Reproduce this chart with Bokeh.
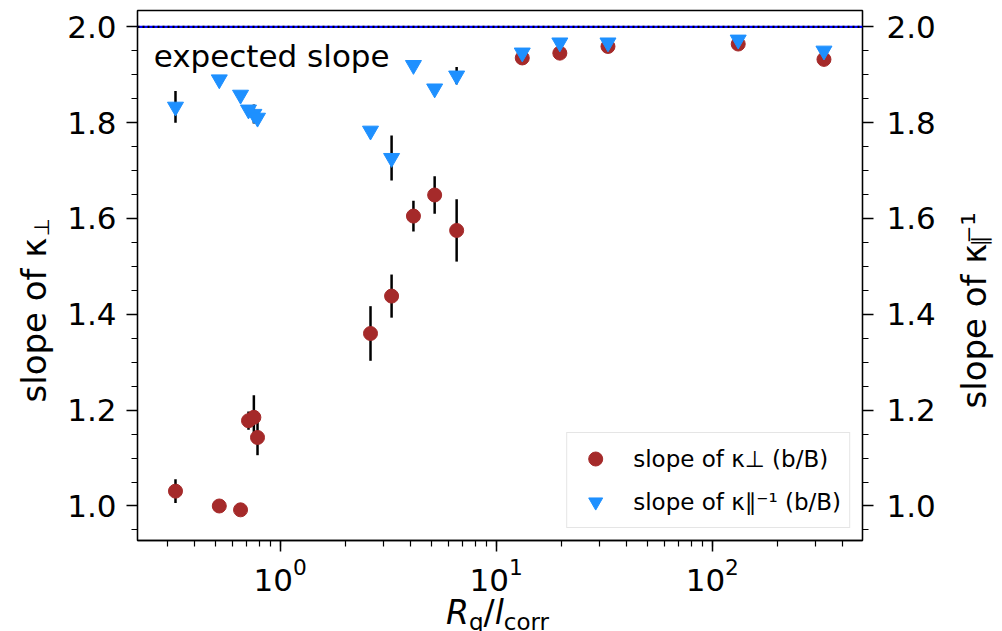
import math
from bokeh.plotting import figure
from bokeh.layouts import column
from bokeh.models import (ColumnDataSource, Range1d, LinearAxis, Label, Legend, Div,
                          LegendItem, Span, SingleIntervalTicker, NumeralTickFormatter)
from bokeh.embed import file_html
from bokeh.resources import INLINE

# ---- data ----
ratio = [0.328, 0.523, 0.656, 0.714, 0.756, 0.786, 2.62, 3.28, 4.14, 5.19, 6.56,
         13.2, 19.7, 32.9, 131.8, 328.6]
slope_perp = [1.031, 1.000, 0.992, 1.178, 1.185, 1.143, 1.360, 1.438, 1.605, 1.649,
              1.575, 1.935, 1.945, 1.959, 1.964, 1.932]
slope_perp_err = [0.025, 0.004, 0.004, 0.019, 0.046, 0.037, 0.057, 0.045, 0.032, 0.039,
                  0.065, 0.005, 0.005, 0.005, 0.005, 0.005]
slope_par = [1.833, 1.890, 1.858, 1.827, 1.818, 1.810, 1.783, 1.726, 1.920, 1.871,
             1.898, 1.946, 1.967, 1.967, 1.973, 1.950]
slope_par_err = [0.033, 0.004, 0.008, 0.010, 0.020, 0.010, 0.005, 0.047, 0.005, 0.005,
                 0.018, 0.004, 0.004, 0.004, 0.004, 0.004]
expected = 2.0
legend_labels = ["slope of κ⊥ (b/B)", "slope of κ∥⁻¹ (b/B)"]

RED = "#a52a2a"
BLUE = "#1e90ff"
FONT = "DejaVu Sans"
FS = "31px"      # tick labels / annotation
AX = "34px"      # y titles
SUB = "21px"     # sub/superscripts of y titles

X0, X1 = 0.2188, 495.5
Y0, Y1 = 0.928, 2.034
W, H = 1002, 595          # figure; a 34px strip below holds the x title
FL, FR, FT, FB = 136, 863, 10, 540

p = figure(width=W, height=H, x_axis_type="log",
           x_range=Range1d(X0, X1), y_range=Range1d(Y0, Y1),
           output_backend="svg", toolbar_location=None,
           min_border_left=FL, min_border_right=W - FR, min_border_top=FT,
           min_border_bottom=H - FB)
p.extra_y_ranges = {"right": Range1d(Y0, Y1)}
p.add_layout(LinearAxis(y_range_name="right"), "right")
p.grid.visible = False
p.outline_line_color = "black"
p.outline_line_width = 1.3
p.background_fill_color = "white"
p.border_fill_color = "white"

for ax in p.yaxis:
    ax.ticker = SingleIntervalTicker(interval=0.2, num_minor_ticks=4)
    ax.formatter = NumeralTickFormatter(format="0.0")
for ax in list(p.xaxis) + list(p.yaxis):
    ax.axis_line_color = "black"
    ax.axis_line_width = 1.3
    ax.major_tick_line_color = "black"
    ax.minor_tick_line_color = "black"
    ax.major_tick_line_width = 1.5
    ax.minor_tick_line_width = 1.2
    ax.major_tick_out = 11
    ax.major_tick_in = 0
    ax.minor_tick_out = 6
    ax.minor_tick_in = 0
    ax.major_label_text_font = FONT
    ax.major_label_text_font_size = FS
    ax.major_label_text_color = "black"
p.yaxis[0].major_label_standoff = 10
p.yaxis[1].major_label_standoff = 13
p.xaxis.major_label_standoff = 6

# expected slope line
p.add_layout(Span(location=expected, dimension="width", line_color="blue", line_width=2.2))
p.add_layout(Span(location=expected, dimension="width", line_color="black",
                  line_width=2.2, line_dash="2 3"))

src = ColumnDataSource(dict(
    x=ratio, perp=slope_perp, par=slope_par,
    perp_lo=[v - e for v, e in zip(slope_perp, slope_perp_err)],
    perp_hi=[v + e for v, e in zip(slope_perp, slope_perp_err)],
    par_lo=[v - e for v, e in zip(slope_par, slope_par_err)],
    par_hi=[v + e for v, e in zip(slope_par, slope_par_err)],
))

p.segment(x0="x", y0="perp_lo", x1="x", y1="perp_hi", source=src,
          line_color="black", line_width=2.5)
r_perp = p.scatter(x="x", y="perp", source=src, marker="circle", size=14,
                   fill_color=RED, line_color=RED)
p.segment(x0="x", y0="par_lo", x1="x", y1="par_hi", source=src,
          line_color="black", line_width=2.5)
r_par = p.scatter(x="x", y="par", source=src, marker="inverted_triangle", size=16,
                  fill_color=BLUE, line_color=BLUE)

legend = Legend(items=[LegendItem(label=legend_labels[0], renderers=[r_perp]),
                       LegendItem(label=legend_labels[1], renderers=[r_par])],
                location="bottom_right", margin=12, padding=8, spacing=8,
                glyph_width=40, glyph_height=35, label_standoff=18,
                label_text_font=FONT, label_text_font_size="23px",
                label_text_color="black",
                border_line_color="#cccccc", border_line_width=1.2,
                background_fill_alpha=0.8)
p.add_layout(legend)

p.add_layout(Label(x=0.26, y=1.94, text="expected slope", text_font=FONT,
                   text_font_size=FS, text_baseline="alphabetic", text_align="left",
                   text_color="black"))

# y titles: pieces placed in the side panels (positions in canvas px -> data)
LX0, LX1 = math.log10(X0), math.log10(X1)
def to_data(cx, cy):
    x = 10 ** (LX0 + (cx - FL) / (FR - FL) * (LX1 - LX0))
    y = Y0 + (FB - cy) / (FB - FT) * (Y1 - Y0)
    return x, y

def lab(side, text, cx, cy, size):
    x, y = to_data(cx, cy)
    p.add_layout(Label(x=x, y=y, text=text, text_font=FONT, text_font_size=size,
                       angle=math.pi / 2, text_align="left",
                       text_baseline="alphabetic", text_color="black"), side)

lab("left", "slope of κ", 32, 402, AX)
lab("left", "⊥", 40, 236, SUB)
lab("right", "slope of κ⁻¹", 975, 408, AX)
lab("right", "∥", 981, 246, SUB)

# x title with real subscripts
xtitle = Div(
    text=('<span style="display:inline-block; padding-left:446px; padding-top:1px; '
          'white-space:nowrap; font-family:\'DejaVu Sans\'; font-size:33px; '
          'line-height:33px; color:black">'
          '<i>R</i><span style="font-size:23px; position:relative; top:6px">q</span>'
          '/<i>l</i><span style="font-size:23px; position:relative; top:6px">corr</span>'
          '</span>'),
    width=W, height=34, margin=0)

layout = column(p, xtitle, spacing=0)
open("out.html", "w").write(file_html(layout, INLINE))
